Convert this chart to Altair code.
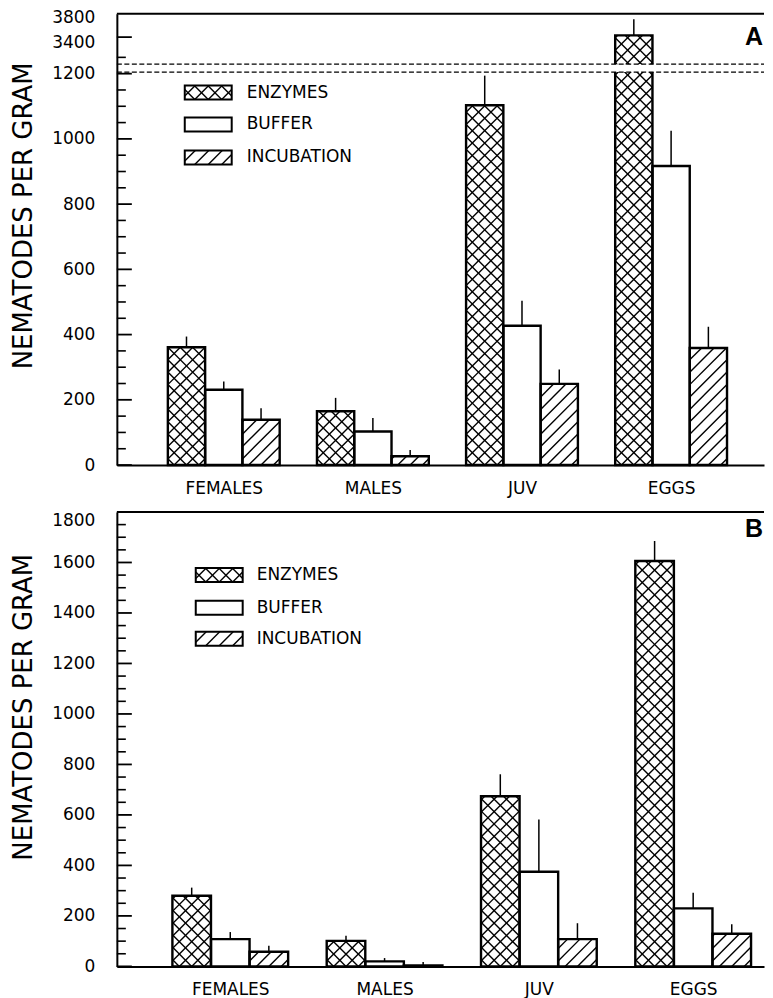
import math
import altair as alt
import pandas as pd

# ---------------- data ----------------
groups = ["FEMALES", "MALES", "JUV", "EGGS"]
treatments = ["ENZYMES", "BUFFER", "INCUBATION"]

# Panel A
a_enzymes = [361, 165, 1103, 3430]
a_enzymes_se = [33, 41, 91, 270]
a_buffer = [231, 103, 427, 917]
a_buffer_se = [25, 41, 77, 108]
a_incubation = [139, 27, 249, 359]
a_incubation_se = [35, 19, 44, 65]

# Panel B
b_enzymes = [280, 101, 674, 1606]
b_enzymes_se = [32, 20, 87, 79]
b_buffer = [108, 20, 375, 230]
b_buffer_se = [28, 13, 207, 62]
b_incubation = [58, 4, 108, 129]
b_incubation_se = [24, 13, 63, 38]

# axis ticks / labels
a_major_ticks = [0, 200, 400, 600, 800, 1000, 1200]
a_minor_ticks = [50, 100, 150, 250, 300, 350, 450, 500, 550, 650, 700, 750,
                 850, 900, 950, 1050, 1100, 1150, 1250]
a_upper_major = [3400]
b_major_ticks = [0, 200, 400, 600, 800, 1000, 1200, 1400, 1600]
b_minor_ticks = [v for v in range(50, 1800, 50) if v % 200 != 0]

# ---------------- layout / style ----------------
FONT = "DejaVu Sans"
PLOT_W = 648
A_H, B_H = 452, 455
A_XDOM = [-0.717, 3.623]
B_XDOM = [-0.735, 3.459]
A_YDOM = [0, 1384]
B_YDOM = [0, 1800]
BAR_W = 0.25
HATCH_S = 12.4
LEG_HATCH_S = 13.5
LEG_BOX_H = 14
MAJOR_LEN, MINOR_LEN = 15, 9

# broken axis of panel A (transformed units)
LOWER_MAX = 1250
UPPER_BASE_T, UPPER_BASE_V, UPPER_RATIO = 1312, 3400, 0.1825
BREAK_LO, BREAK_HI = 1205, 1229


def a_t(v):
    return v if v <= LOWER_MAX else UPPER_BASE_T + (v - UPPER_BASE_V) * UPPER_RATIO


def b_t(v):
    return v


PATTERN = {"ENZYMES": "cross", "BUFFER": "plain", "INCUBATION": "slash"}


def hatch_px(x0, x1, u0, u1, s, kind):
    xc = (x0 + x1) / 2
    dirs = []
    if kind in ("cross", "slash"):
        dirs.append(1)
    if kind == "cross":
        dirs.append(-1)
    segs = []
    for d in dirs:
        if d == 1:
            base = u0 - xc
            cmin, cmax = u0 - x1, u1 - x0
        else:
            base = u0 + xc
            cmin, cmax = u0 + x0, u1 + x1
        k = math.ceil((cmin - base) / s)
        while base + k * s <= cmax:
            c = base + k * s
            if d == 1:
                xa, xb = max(x0, u0 - c), min(x1, u1 - c)
                ua, ub = xa + c, xb + c
            else:
                xa, xb = max(x0, c - u1), min(x1, c - u0)
                ua, ub = c - xa, c - xb
            if xb - xa > 0.4:
                segs.append((xa, ua, xb, ub))
            k += 1
    return segs


def panel(series, xdom, ydom, height, tfun, legend_box, legend_text_x, legend_rows,
          majors, minors, label_values, label_expr, title_y, letter, letter_y,
          brk=None):
    kx = PLOT_W / (xdom[1] - xdom[0])
    ky = height / (ydom[1] - ydom[0])

    def to_x(px):
        return xdom[0] + px / kx

    def to_t(pu):
        return ydom[0] + pu / ky

    def px_x(x):
        return (x - xdom[0]) * kx

    xs = alt.Scale(domain=xdom, nice=False, zero=False)
    ys = alt.Scale(domain=ydom, nice=False, zero=False)

    rows, hrows, lrows = [], [], []
    for ti, (name, vals, errs) in enumerate(series):
        for gi, g in enumerate(groups):
            xc = gi + (ti - 1) * BAR_W
            xl, xr = xc - BAR_W / 2, xc + BAR_W / 2
            t = tfun(vals[gi])
            te = tfun(vals[gi] + errs[gi])
            rows.append(dict(x=xl, x2=xr, xc=xc, t0=0, t=t, te=te))
            for xa, ua, xb, ub in hatch_px(px_x(xl), px_x(xr), 0, t * ky,
                                           HATCH_S, PATTERN[name]):
                hrows.append(dict(x=to_x(xa), t=to_t(ua), x2=to_x(xb), t2=to_t(ub)))
    for (name, _, _), cy in zip(series, legend_rows):
        bx0, bx1 = legend_box
        uc = height - cy
        lrows.append(dict(x=to_x(bx0), x2=to_x(bx1),
                          t=to_t(uc + LEG_BOX_H / 2), t0=to_t(uc - LEG_BOX_H / 2),
                          tx=to_x(legend_text_x), tt=to_t(uc), label=name))
        for xa, ua, xb, ub in hatch_px(bx0, bx1, uc - LEG_BOX_H / 2, uc + LEG_BOX_H / 2,
                                       LEG_HATCH_S, PATTERN[name]):
            hrows.append(dict(x=to_x(xa), t=to_t(ua), x2=to_x(xb), t2=to_t(ub)))

    bars_df = pd.DataFrame(rows)
    hatch_df = pd.DataFrame(hrows)
    leg_df = pd.DataFrame(lrows)

    xlabels = "[" + ",".join("'" + g + "'" for g in groups) + "][datum.value]"
    xaxis = alt.Axis(values=[0, 1, 2, 3], labelExpr=xlabels, ticks=False, tickSize=0,
                     grid=False, domainWidth=2, domainColor="black", labelColor="black",
                     labelFont=FONT, labelFontSize=17, labelPadding=15, labelAngle=0,
                     title=None, zindex=1)
    yaxis = alt.Axis(values=label_values, format="d", labelExpr=label_expr, ticks=False,
                     tickSize=0, grid=False, domainWidth=2, domainColor="black",
                     labelColor="black", labelFont=FONT, labelFontSize=17,
                     labelPadding=22, labelOverlap=False,
                     title="NEMATODES PER GRAM", titleFont=FONT, titleFontSize=26,
                     titleFontWeight="normal", titleColor="black", titleX=-93,
                     titleY=title_y, titleAngle=270, titleBaseline="middle",
                     titleAlign="center", zindex=1)

    def X(f):
        return alt.X(f, type="quantitative", scale=xs, axis=xaxis)

    def Y(f):
        return alt.Y(f, type="quantitative", scale=ys, axis=yaxis)

    layers = []
    layers.append(alt.Chart(hatch_df).mark_rule(color="black", strokeWidth=1.4).encode(
        x=X("x"), y=Y("t"), x2="x2:Q", y2="t2:Q"))
    layers.append(alt.Chart(bars_df).mark_rect(
        fill="white", fillOpacity=0, stroke="black", strokeWidth=2.4).encode(
        x=X("x"), x2="x2:Q", y=Y("t"), y2="t0:Q"))
    layers.append(alt.Chart(bars_df).mark_rule(color="black", strokeWidth=1.5).encode(
        x=X("xc"), y=Y("t"), y2="te:Q"))
    if brk is not None:
        band = pd.DataFrame({"t": [brk[0]], "t2": [brk[1]]})
        layers.append(alt.Chart(band).mark_rect(fill="white", strokeWidth=0).encode(
            x=alt.value(2), x2=alt.value(PLOT_W), y=Y("t"), y2="t2:Q"))
        dashes = pd.DataFrame({"t": list(brk)})
        layers.append(alt.Chart(dashes).mark_rule(
            color="black", strokeWidth=1.3, strokeDash=[5, 2.5]).encode(
            x=alt.value(0), x2=alt.value(PLOT_W), y=Y("t")))
    layers.append(alt.Chart(pd.DataFrame({"t": majors})).mark_rule(
        color="black", strokeWidth=1.8).encode(
        x=alt.value(0), x2=alt.value(MAJOR_LEN), y=Y("t")))
    layers.append(alt.Chart(pd.DataFrame({"t": minors})).mark_rule(
        color="black", strokeWidth=1.6).encode(
        x=alt.value(0), x2=alt.value(MINOR_LEN), y=Y("t")))
    layers.append(alt.Chart(pd.DataFrame({"a": [0]})).mark_rule(
        color="black", strokeWidth=2).encode(
        x=alt.value(0), x2=alt.value(PLOT_W), y=alt.value(0)))
    layers.append(alt.Chart(leg_df).mark_rect(
        fill="white", fillOpacity=0, stroke="black", strokeWidth=2).encode(
        x=X("x"), x2="x2:Q", y=Y("t"), y2="t0:Q"))
    layers.append(alt.Chart(leg_df).mark_text(
        align="left", baseline="middle", font=FONT, fontSize=17, color="black").encode(
        x=X("tx"), y=Y("tt"), text="label:N"))
    layers.append(alt.Chart(pd.DataFrame({"a": [0]})).mark_text(
        align="right", baseline="middle", font="Liberation Sans", fontWeight="bold",
        fontSize=25, color="black").encode(
        x=alt.value(PLOT_W - 1), y=alt.value(letter_y), text=alt.value(letter)))
    return alt.layer(*layers).properties(width=PLOT_W, height=height)


a_series = [("ENZYMES", a_enzymes, a_enzymes_se),
            ("BUFFER", a_buffer, a_buffer_se),
            ("INCUBATION", a_incubation, a_incubation_se)]
b_series = [("ENZYMES", b_enzymes, b_enzymes_se),
            ("BUFFER", b_buffer, b_buffer_se),
            ("INCUBATION", b_incubation, b_incubation_se)]

a_label_values = a_major_ticks + [1294.5, 1371]
a_label_expr = "datum.value > 1350 ? '3800' : datum.value > 1280 ? '3400' : datum.label"
b_label_values = b_major_ticks + [1768]
b_label_expr = "datum.value > 1700 ? '1800' : datum.label"

panel_a = panel(a_series, A_XDOM, A_YDOM, A_H, a_t, (68, 115), 130, [79, 111, 144],
                a_major_ticks + [a_t(v) for v in a_upper_major], a_minor_ticks,
                a_label_values, a_label_expr, 202, "A", 23,
                brk=(BREAK_LO, BREAK_HI))
panel_b = panel(b_series, B_XDOM, B_YDOM, B_H, b_t, (79, 126), 140, [63, 96, 127],
                b_major_ticks, b_minor_ticks,
                b_label_values, b_label_expr, 195, "B", 17)

chart = alt.vconcat(panel_a, panel_b, spacing=15).properties(
    padding={"left": 3, "top": 0, "right": 0, "bottom": 0}
).configure_view(strokeWidth=0)

chart.save("out.html", embed_options={"renderer": "svg", "actions": False})
